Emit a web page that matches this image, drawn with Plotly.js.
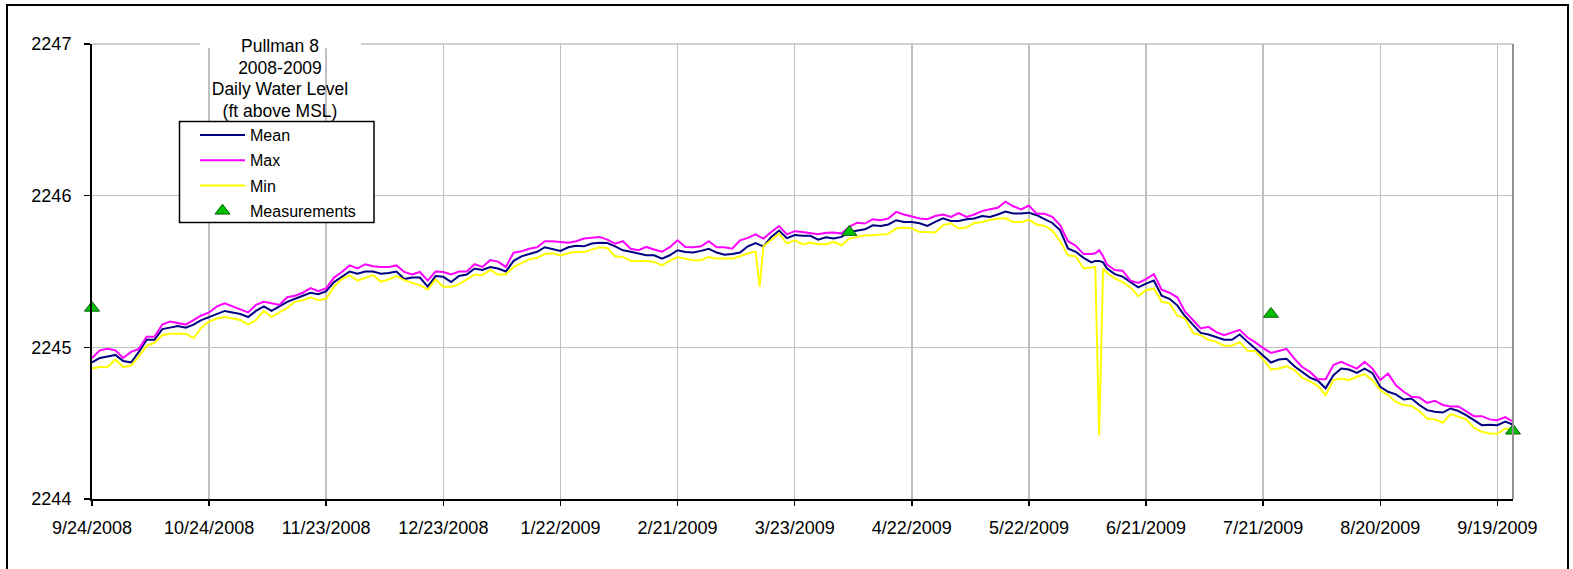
<!DOCTYPE html>
<html>
<head>
<meta charset="utf-8">
<script src="https://cdn.plot.ly/plotly-3.0.1.min.js"></script>
<style>
  html, body { margin: 0; padding: 0; background: #ffffff; }
  #chart { width: 1573px; height: 569px; }
</style>
</head>
<body>
<div id="chart"></div>
<script>
// ---- DATA ----
const startDate = '2008-09-24';

// day offsets from startDate (every 2nd day, plus single days around the two Min spikes)
const dayOffsets = [
  0,2,4,6,8,10,12,14,16,18,
  20,22,24,26,28,30,32,34,36,38,
  40,42,44,46,48,50,52,54,56,58,
  60,62,64,66,68,70,72,74,76,78,
  80,82,84,86,88,90,92,94,96,98,
  100,102,104,106,108,110,112,114,116,118,
  120,122,124,126,128,130,132,134,136,138,
  140,142,144,146,148,150,152,154,156,158,
  160,162,164,166,168,170,171,172,174,176,178,
  180,182,184,186,188,190,192,194,196,198,
  200,202,204,206,208,210,212,214,216,218,
  220,222,224,226,228,230,232,234,236,238,
  240,242,244,246,248,250,252,254,256,257,258,259,
  260,262,264,266,268,270,272,274,276,278,
  280,282,284,286,288,290,292,294,296,298,
  300,302,304,306,308,310,312,314,316,318,
  320,322,324,326,328,330,332,334,336,338,
  340,342,344,346,348,350,352,354,356,358,
  360,362,364
];

const meanLevel = [
  2244.90,2244.93,2244.94,2244.95,2244.91,2244.90,2244.97,2245.05,2245.05,2245.12,
  2245.13,2245.14,2245.13,2245.15,2245.18,2245.20,2245.22,2245.24,2245.23,2245.22,
  2245.20,2245.24,2245.27,2245.24,2245.27,2245.30,2245.32,2245.34,2245.36,2245.35,
  2245.37,2245.43,2245.465,2245.50,2245.485,2245.50,2245.50,2245.485,2245.49,2245.50,
  2245.45,2245.46,2245.46,2245.40,2245.47,2245.465,2245.43,2245.47,2245.48,2245.52,
  2245.51,2245.53,2245.52,2245.50,2245.57,2245.60,2245.615,2245.63,2245.66,2245.645,
  2245.635,2245.66,2245.67,2245.666,2245.684,2245.69,2245.688,2245.666,2245.64,2245.63,
  2245.62,2245.607,2245.607,2245.585,2245.607,2245.64,2245.628,2245.625,2245.636,2245.65,
  2245.625,2245.61,2245.615,2245.625,2245.666,2245.688,2245.676,2245.666,2245.728,2245.77,2245.72,
  2245.74,2245.735,2245.735,2245.71,2245.725,2245.717,2245.728,2245.761,2245.772,2245.778,
  2245.805,2245.80,2245.81,2245.838,2245.827,2245.827,2245.818,2245.80,2245.827,2245.85,
  2245.833,2245.833,2245.845,2245.85,2245.866,2245.86,2245.876,2245.895,2245.882,2245.882,
  2245.888,2245.871,2245.845,2245.82,2245.772,2245.652,2245.63,2245.59,2245.56,2245.57,2245.57,2245.56,
  2245.52,2245.483,2245.466,2245.43,2245.395,2245.42,2245.44,2245.34,2245.32,2245.277,
  2245.205,2245.15,2245.095,2245.085,2245.065,2245.05,2245.05,2245.085,2245.036,2244.99,
  2244.94,2244.90,2244.92,2244.925,2244.875,2244.838,2244.80,2244.78,2244.73,2244.816,
  2244.86,2244.854,2244.832,2244.86,2244.83,2244.74,2244.707,2244.69,2244.656,2244.663,
  2244.62,2244.586,2244.575,2244.57,2244.597,2244.58,2244.553,2244.52,2244.487,2244.49,
  2244.487,2244.51,2244.49
];

const maxLevel = [
  2244.93,2244.98,2244.99,2244.98,2244.93,2244.97,2244.99,2245.07,2245.07,2245.15,
  2245.17,2245.16,2245.15,2245.18,2245.21,2245.23,2245.27,2245.29,2245.27,2245.25,
  2245.23,2245.28,2245.30,2245.29,2245.28,2245.33,2245.34,2245.36,2245.39,2245.37,
  2245.39,2245.46,2245.497,2245.54,2245.52,2245.548,2245.535,2245.53,2245.53,2245.54,
  2245.497,2245.48,2245.497,2245.44,2245.50,2245.497,2245.48,2245.50,2245.50,2245.548,
  2245.53,2245.575,2245.565,2245.53,2245.624,2245.633,2245.65,2245.66,2245.70,2245.70,
  2245.695,2245.69,2245.70,2245.717,2245.722,2245.728,2245.71,2245.684,2245.70,2245.65,
  2245.64,2245.662,2245.645,2245.63,2245.66,2245.706,2245.662,2245.66,2245.666,2245.70,
  2245.66,2245.66,2245.65,2245.706,2245.722,2245.745,2245.73,2245.717,2245.76,2245.80,2245.745,
  2245.766,2245.76,2245.755,2245.745,2245.755,2245.757,2245.75,2245.794,2245.822,2245.816,
  2245.845,2245.838,2245.849,2245.893,2245.876,2245.86,2245.849,2245.845,2245.866,2245.876,
  2245.86,2245.885,2245.86,2245.876,2245.898,2245.91,2245.92,2245.96,2245.93,2245.91,
  2245.935,2245.88,2245.88,2245.86,2245.805,2245.70,2245.67,2245.615,2245.615,2245.62,2245.64,2245.60,
  2245.545,2245.51,2245.505,2245.44,2245.425,2245.45,2245.483,2245.38,2245.36,2245.33,
  2245.235,2245.18,2245.125,2245.135,2245.10,2245.08,2245.10,2245.115,2245.065,2245.033,
  2244.995,2244.963,2244.976,2244.99,2244.925,2244.87,2244.838,2244.79,2244.79,2244.884,
  2244.905,2244.884,2244.86,2244.905,2244.86,2244.784,2244.827,2244.75,2244.707,2244.674,
  2244.67,2244.634,2244.648,2244.62,2244.61,2244.61,2244.58,2244.546,2244.546,2244.525,
  2244.52,2244.54,2244.51
];

const minLevel = [
  2244.86,2244.87,2244.87,2244.92,2244.87,2244.88,2244.94,2245.01,2245.03,2245.08,
  2245.09,2245.09,2245.09,2245.06,2245.13,2245.17,2245.19,2245.20,2245.19,2245.18,
  2245.15,2245.18,2245.24,2245.20,2245.23,2245.26,2245.30,2245.31,2245.33,2245.31,
  2245.32,2245.40,2245.45,2245.475,2245.44,2245.46,2245.476,2245.432,2245.447,2245.47,
  2245.443,2245.425,2245.41,2245.38,2245.447,2245.40,2245.40,2245.415,2245.45,2245.48,
  2245.476,2245.51,2245.48,2245.48,2245.53,2245.557,2245.58,2245.59,2245.615,2245.62,
  2245.605,2245.62,2245.63,2245.628,2245.645,2245.66,2245.655,2245.60,2245.596,2245.57,
  2245.57,2245.57,2245.563,2245.54,2245.57,2245.596,2245.585,2245.574,2245.574,2245.596,
  2245.585,2245.585,2245.585,2245.60,2245.62,2245.63,2245.40,2245.666,2245.706,2245.75,2245.684,
  2245.706,2245.68,2245.69,2245.68,2245.68,2245.695,2245.673,2245.717,2245.73,2245.739,
  2245.739,2245.745,2245.748,2245.783,2245.79,2245.783,2245.761,2245.761,2245.757,2245.805,
  2245.818,2245.783,2245.79,2245.82,2245.827,2245.84,2245.849,2245.849,2245.827,2245.827,
  2245.84,2245.81,2245.80,2245.77,2245.70,2245.607,2245.60,2245.52,2245.53,2245.53,2244.42,2245.52,
  2245.49,2245.455,2245.43,2245.395,2245.337,2245.377,2245.388,2245.30,2245.29,2245.21,
  2245.19,2245.095,2245.08,2245.05,2245.036,2245.01,2245.01,2245.036,2244.977,2244.975,
  2244.92,2244.855,2244.86,2244.875,2244.85,2244.80,2244.776,2244.746,2244.685,2244.784,
  2244.795,2244.784,2244.806,2244.823,2244.784,2244.718,2244.685,2244.64,2244.62,2244.614,
  2244.58,2244.531,2244.525,2244.503,2244.56,2244.54,2244.525,2244.47,2244.443,2244.432,
  2244.43,2244.465,2244.46
];

const measurementDates = ['2008-09-24', '2009-04-06', '2009-07-23', '2009-09-23'];
const measurementValues = [2245.26, 2245.76, 2245.22, 2244.45];

const tickDates = ['2008-09-24','2008-10-24','2008-11-23','2008-12-23','2009-01-22','2009-02-21',
                   '2009-03-23','2009-04-22','2009-05-22','2009-06-21','2009-07-21','2009-08-20','2009-09-19'];
const tickLabels = ['9/24/2008','10/24/2008','11/23/2008','12/23/2008','1/22/2009','2/21/2009',
                    '3/23/2009','4/22/2009','5/22/2009','6/21/2009','7/21/2009','8/20/2009','9/19/2009'];
const yTicks = [2244, 2245, 2246, 2247];
const yTickLabels = ['2244', '2245', '2246', '2247'];

const titleLines = ['Pullman 8', '2008-2009', 'Daily Water Level', '(ft above MSL)'];
const seriesNames = ['Mean', 'Max', 'Min', 'Measurements'];

// ---- BUILD ----
function offsetToDate(d) {
  const base = Date.parse(startDate + 'T00:00:00Z');
  return new Date(base + d * 86400000).toISOString().slice(0, 10);
}
const dates = dayOffsets.map(offsetToDate);

const W = 1573, H = 569;
const M = { l: 92, r: 60, t: 44, b: 70 };
const PW = W - M.l - M.r, PH = H - M.t - M.b;
const px = x => (x - M.l) / PW;          // pixel x -> paper x
const py = y => (H - M.b - y) / PH;      // pixel y -> paper y

const FONT = 'Liberation Sans, Arial, sans-serif';

const traces = [
  { x: dates, y: meanLevel, name: seriesNames[0], type: 'scatter', mode: 'lines',
    line: { color: '#000080', width: 2 }, legendgroup: 'a', cliponaxis: false },
  { x: dates, y: maxLevel, name: seriesNames[1], type: 'scatter', mode: 'lines',
    line: { color: '#ff00ff', width: 2 }, legendgroup: 'b', cliponaxis: false },
  { x: dates, y: minLevel, name: seriesNames[2], type: 'scatter', mode: 'lines',
    line: { color: '#ffff00', width: 2 }, legendgroup: 'c', cliponaxis: false },
  { x: measurementDates, y: measurementValues, name: seriesNames[3], type: 'scatter', mode: 'markers',
    marker: { symbol: 'triangle-up', size: 13, color: '#00c000', line: { color: '#006000', width: 1 } },
    legendgroup: 'd', cliponaxis: false }
];

const layout = {
  width: W, height: H,
  margin: M,
  paper_bgcolor: '#ffffff',
  plot_bgcolor: '#ffffff',
  font: { family: FONT, color: '#000000', size: 18 },
  title: {
    text: titleLines.join('<br>'),
    font: { family: FONT, size: 17.5, color: '#000000' },
    xref: 'container', yref: 'container',
    x: 280 / W, xanchor: 'center',
    y: 1 - 52 / H, yanchor: 'top',
    automargin: false
  },
  showlegend: true,
  legend: {
    x: px(195), xanchor: 'left',
    y: py(118), yanchor: 'top',
    bgcolor: 'rgba(0,0,0,0)', borderwidth: 0,
    font: { family: FONT, size: 16, color: '#000000' },
    itemwidth: 45,
    tracegroupgap: 1.5,
    traceorder: 'grouped'
  },
  xaxis: {
    type: 'date',
    range: ['2008-09-24', '2009-09-23'],
    tickmode: 'array', tickvals: tickDates, ticktext: tickLabels,
    showgrid: true, gridcolor: '#c0c0c0', gridwidth: 1.5,
    showline: true, linecolor: '#000000', linewidth: 2,
    ticks: 'outside', ticklen: 5, tickwidth: 1.5, tickcolor: '#000000',
    ticklabelstandoff: 6,
    tickfont: { family: FONT, size: 18, color: '#000000' },
    zeroline: false, fixedrange: true
  },
  yaxis: {
    range: [2244, 2247],
    tickmode: 'array', tickvals: yTicks, ticktext: yTickLabels,
    showgrid: true, gridcolor: '#c0c0c0', gridwidth: 1.5,
    showline: true, linecolor: '#000000', linewidth: 2,
    ticks: 'outside', ticklen: 6, tickwidth: 1.5, tickcolor: '#000000',
    ticklabelstandoff: 9,
    tickfont: { family: FONT, size: 18, color: '#000000' },
    zeroline: false, fixedrange: true
  },
  shapes: [
    // chart area outer border
    { type: 'rect', xref: 'paper', yref: 'paper', layer: 'above',
      x0: px(7), x1: px(1568), y0: py(575), y1: py(5),
      line: { color: '#000000', width: 2 }, fillcolor: 'rgba(0,0,0,0)' },
    // plot area right border
    { type: 'line', xref: 'paper', yref: 'paper', layer: 'above',
      x0: 1, x1: 1, y0: 0, y1: 1, line: { color: '#909090', width: 2 } },
    // plot area top border
    { type: 'line', xref: 'paper', yref: 'paper', layer: 'below',
      x0: 0, x1: 1, y0: 1, y1: 1, line: { color: '#c0c0c0', width: 1.5 } },
    // white background behind the title
    { type: 'rect', xref: 'paper', yref: 'paper', layer: 'above',
      x0: px(200), x1: px(361), y0: py(48), y1: py(38),
      line: { width: 0 }, fillcolor: '#ffffff' },
    // legend box
    { type: 'rect', xref: 'paper', yref: 'paper', layer: 'above',
      x0: px(179.5), x1: px(374), y0: py(222.5), y1: py(121.5),
      line: { color: '#000000', width: 1.5 }, fillcolor: '#ffffff' }
  ]
};

Plotly.newPlot('chart', traces, layout, { displayModeBar: false, staticPlot: true }).then(function (gd) {
  // tighten the title's line spacing to match the reference (about 21.7px per line)
  gd.querySelectorAll('.gtitle tspan.line').forEach(function (t, i) {
    t.setAttribute('dy', (i * 1.24).toFixed(2) + 'em');
  });
});
</script>
</body>
</html>
